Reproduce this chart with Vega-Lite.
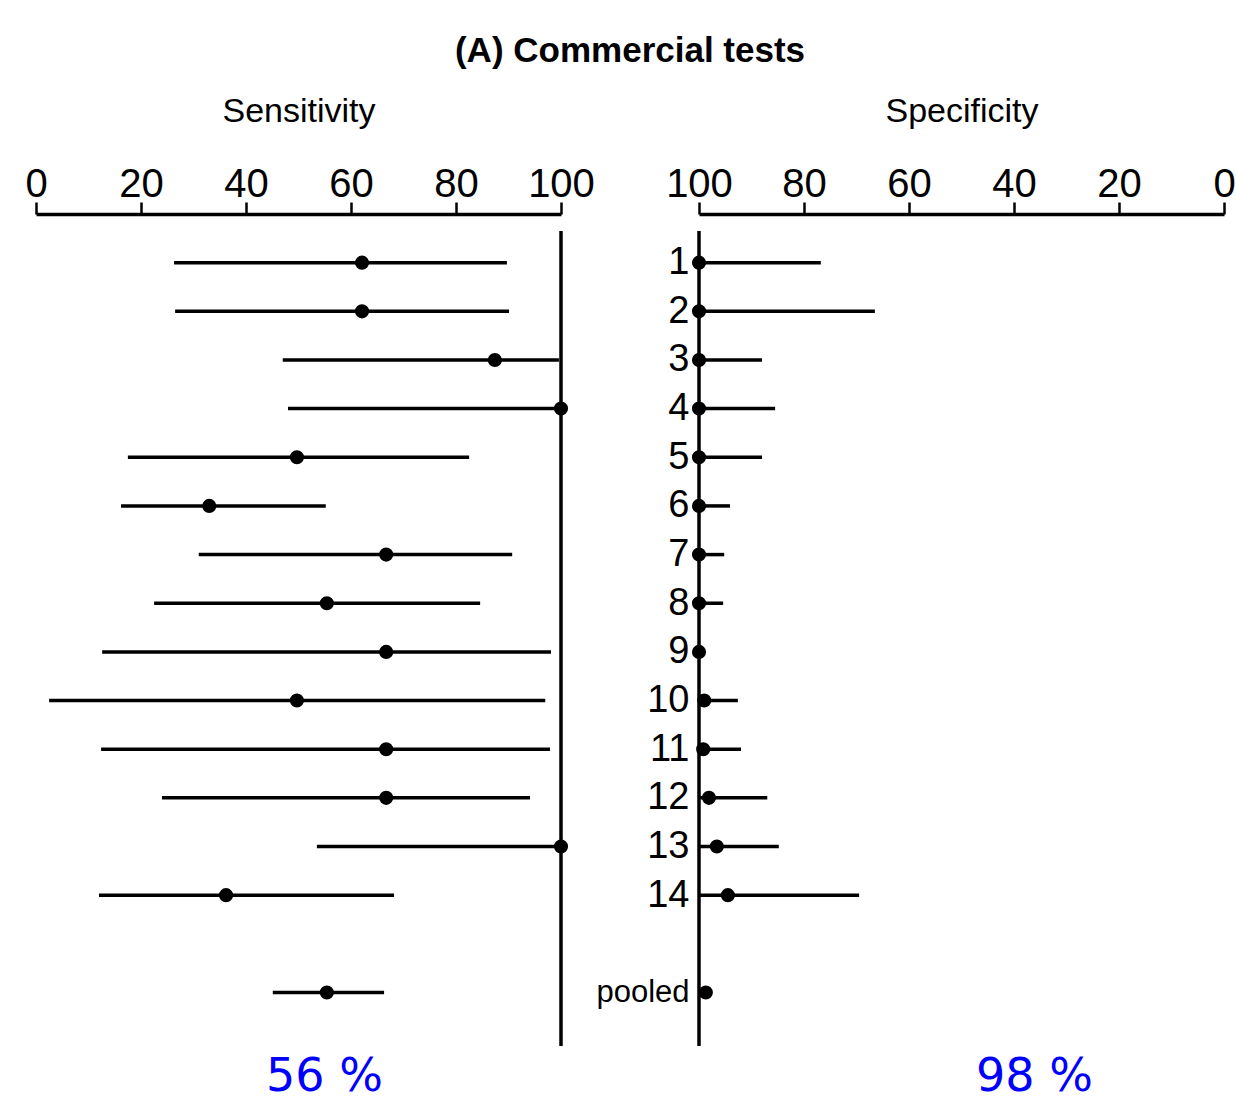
{
  "$schema": "https://vega.github.io/schema/vega-lite/v6.json",
  "background": "white",
  "padding": {"left": 24, "right": 5, "top": 34, "bottom": 5},
  "title": {"text": "(A) Commercial tests", "fontSize": 35, "fontWeight": "bold", "font": "Liberation Sans", "anchor": "middle", "color": "black", "offset": 25},
  "datasets": {
    "studies": [
      {"study": "1", "row": 1, "sens": 62.1, "sens_lo": 26.3, "sens_hi": 89.7, "spec": 100, "spec_lo": 76.8, "spec_hi": 100},
      {"study": "2", "row": 2, "sens": 62.1, "sens_lo": 26.5, "sens_hi": 90.1, "spec": 100, "spec_lo": 66.5, "spec_hi": 100},
      {"study": "3", "row": 3, "sens": 87.4, "sens_lo": 47.0, "sens_hi": 99.6, "spec": 100, "spec_lo": 88.0, "spec_hi": 100},
      {"study": "4", "row": 4, "sens": 100, "sens_lo": 48.0, "sens_hi": 100, "spec": 100, "spec_lo": 85.5, "spec_hi": 100},
      {"study": "5", "row": 5, "sens": 49.7, "sens_lo": 17.5, "sens_hi": 82.5, "spec": 100, "spec_lo": 88.0, "spec_hi": 100},
      {"study": "6", "row": 6, "sens": 33.0, "sens_lo": 16.2, "sens_hi": 55.2, "spec": 100, "spec_lo": 94.1, "spec_hi": 100},
      {"study": "7", "row": 7, "sens": 66.7, "sens_lo": 31.0, "sens_hi": 90.7, "spec": 100, "spec_lo": 95.2, "spec_hi": 100},
      {"study": "8", "row": 8, "sens": 55.4, "sens_lo": 22.5, "sens_hi": 84.6, "spec": 100, "spec_lo": 95.4, "spec_hi": 100},
      {"study": "9", "row": 9, "sens": 66.7, "sens_lo": 12.6, "sens_hi": 98.1, "spec": 100, "spec_lo": 100, "spec_hi": 100},
      {"study": "10", "row": 10, "sens": 49.7, "sens_lo": 2.5, "sens_hi": 97.0, "spec": 99.0, "spec_lo": 92.6, "spec_hi": 100},
      {"study": "11", "row": 11, "sens": 66.7, "sens_lo": 12.4, "sens_hi": 97.9, "spec": 99.2, "spec_lo": 92.0, "spec_hi": 100},
      {"study": "12", "row": 12, "sens": 66.7, "sens_lo": 24.0, "sens_hi": 94.1, "spec": 98.1, "spec_lo": 87.0, "spec_hi": 100},
      {"study": "13", "row": 13, "sens": 100, "sens_lo": 53.5, "sens_hi": 100, "spec": 96.6, "spec_lo": 84.8, "spec_hi": 100},
      {"study": "14", "row": 14, "sens": 36.2, "sens_lo": 12.0, "sens_hi": 68.2, "spec": 94.5, "spec_lo": 69.5, "spec_hi": 100},
      {"study": "pooled", "row": 16, "sens": 55.4, "sens_lo": 45.1, "sens_hi": 66.3, "spec": 98.7, "spec_lo": 98.0, "spec_hi": 99.3}
    ],
    "refline": [{"v": 100, "y0": 0.35, "y1": 17.1}]
  },
  "spacing": 0,
  "hconcat": [
    {
      "width": 525,
      "height": 832,
      "title": {"text": "56 %", "orient": "bottom", "color": "#0000ff", "fontSize": 46, "font": "DejaVu Sans", "fontWeight": "normal", "dx": 26, "offset": 7},
      "layer": [
        {
          "data": {"name": "refline"},
          "mark": {"type": "rule", "color": "black", "strokeWidth": 3.5},
          "encoding": {
            "x": {"field": "v", "type": "quantitative", "scale": {"domain": [0, 100], "nice": false}},
            "y": {"field": "y0", "type": "quantitative", "scale": {"domain": [0, 17.1], "reverse": true, "nice": false, "zero": false}, "axis": null},
            "y2": {"field": "y1"}
          }
        },
        {
          "data": {"name": "studies"},
          "mark": {"type": "rule", "color": "black", "strokeWidth": 3.5},
          "encoding": {
            "x": {"field": "sens_lo", "type": "quantitative"},
            "x2": {"field": "sens_hi"},
            "y": {"field": "row", "type": "quantitative"}
          }
        },
        {
          "data": {"name": "studies"},
          "mark": {"type": "point", "filled": true, "color": "black", "size": 200, "opacity": 1},
          "encoding": {
            "x": {"field": "sens", "type": "quantitative", "axis": {"orient": "top", "title": "Sensitivity", "values": [0, 20, 40, 60, 80, 100]}},
            "y": {"field": "row", "type": "quantitative"}
          }
        }
      ]
    },
    {
      "width": 525,
      "height": 832,
      "title": {"text": "98 %", "orient": "bottom", "color": "#0000ff", "fontSize": 46, "font": "DejaVu Sans", "fontWeight": "normal", "dx": 73, "offset": 7},
      "layer": [
        {
          "data": {"name": "refline"},
          "mark": {"type": "rule", "color": "black", "strokeWidth": 3.5},
          "encoding": {
            "x": {"field": "v", "type": "quantitative", "scale": {"domain": [0, 100], "reverse": true, "nice": false}},
            "y": {"field": "y0", "type": "quantitative", "scale": {"domain": [0, 17.1], "reverse": true, "nice": false, "zero": false},
                  "axis": {"orient": "left", "title": null, "values": [1, 2, 3, 4, 5, 6, 7, 8, 9, 10, 11, 12, 13, 14, 16],
                           "labelExpr": "datum.value == 16 ? 'pooled' : datum.label",
                           "labelFontSize": {"condition": {"test": "datum.value == 16", "value": 31}, "value": 38},
                           "domain": false, "ticks": false, "grid": false, "labelPadding": 10, "labelColor": "black",
                           "labelFont": "Liberation Sans"}},
            "y2": {"field": "y1"}
          }
        },
        {
          "data": {"name": "studies"},
          "mark": {"type": "rule", "color": "black", "strokeWidth": 3.5},
          "encoding": {
            "x": {"field": "spec_lo", "type": "quantitative"},
            "x2": {"field": "spec_hi"},
            "y": {"field": "row", "type": "quantitative"}
          }
        },
        {
          "data": {"name": "studies"},
          "mark": {"type": "point", "filled": true, "color": "black", "size": 200, "opacity": 1},
          "encoding": {
            "x": {"field": "spec", "type": "quantitative", "axis": {"orient": "top", "title": "Specificity", "values": [100, 80, 60, 40, 20, 0]}},
            "y": {"field": "row", "type": "quantitative"}
          }
        }
      ]
    }
  ],
  "config": {
    "view": {"stroke": null},
    "axis": {
      "grid": false,
      "domainColor": "black", "domainWidth": 3.5,
      "tickColor": "black", "tickWidth": 2.5, "tickSize": 12,
      "labelColor": "black", "labelFontSize": 40, "labelFont": "Liberation Sans",
      "labelPadding": -2, "labelFlush": false, "labelOverlap": false,
      "titleColor": "black", "titleFontSize": 34, "titleFontWeight": "normal", "titleFont": "Liberation Sans",
      "titlePadding": 36
    }
  }
}
